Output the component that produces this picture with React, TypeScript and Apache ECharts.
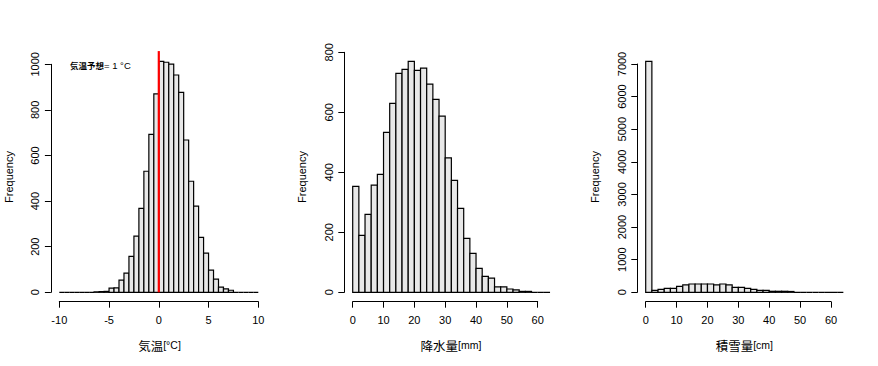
import React, { useEffect, useRef } from "react";
import * as echarts from "echarts";

// ---------- data ----------
const tempBinStart = -10;
const tempBinWidth = 0.5;
const tempCounts = [
  0, 0, 0, 0, 0, 0, 0, 2, 3, 4, 18, 19, 53, 84, 158, 246, 368, 531, 693, 870,
  1013, 1009, 1001, 953, 877, 668, 487, 378, 241, 172, 97, 58, 23, 15, 9, 0, 0, 0, 0, 0,
];

const precipBinStart = 0;
const precipBinWidth = 2;
const precipCounts = [
  353, 190, 260, 357, 393, 533, 630, 730, 743, 770, 740, 747, 694, 643, 587, 448,
  373, 280, 180, 130, 80, 53, 47, 18, 18, 11, 8, 3, 3, 0, 0, 0,
];

const snowBinStart = 0;
const snowBinWidth = 2;
const snowCounts = [
  7080, 61, 92, 123, 123, 184, 225, 255, 255, 255, 255, 225, 255, 225, 153, 153,
  123, 92, 61, 61, 31, 31, 31, 25, 0, 0, 0, 0, 0, 0, 0, 0,
];

const tempXTicks = [-10, -5, 0, 5, 10];
const precipXTicks = [0, 10, 20, 30, 40, 50, 60];
const snowXTicks = [0, 10, 20, 30, 40, 50, 60];
const tempYTicks = [0, 200, 400, 600, 800, 1000];
const precipYTicks = [0, 200, 400, 600, 800];
const snowYTicks = [0, 1000, 2000, 3000, 4000, 5000, 6000, 7000];

const forecastLine = [
  [0, 0],
  [0, 1058],
];

const yTitle = "Frequency";
const xTitleMain = ["気温", "降水量", "積雪量"];
const xTitleUnit = ["[°C]", "[mm]", "[cm]"];
const annotationMain = "気温予想";
const annotationRest = "= 1 °C";

// ---------- layout ----------
const LATIN = "'Liberation Sans', Arial, 'Noto Sans CJK JP', sans-serif";
const CJK = "'Noto Sans CJK JP', sans-serif";

const panels = [
  { left: 59.3, top: 64.3, width: 199, height: 228, binStart: tempBinStart, binWidth: tempBinWidth, counts: tempCounts, xTicks: tempXTicks, yTicks: tempYTicks, yTitleX: 9, xTitleX: 159.5 },
  { left: 352.7, top: 52.3, width: 185, height: 240, binStart: precipBinStart, binWidth: precipBinWidth, counts: precipCounts, xTicks: precipXTicks, yTicks: precipYTicks, yTitleX: 302, xTitleX: 451 },
  { left: 645.7, top: 64, width: 185.3, height: 228.3, binStart: snowBinStart, binWidth: snowBinWidth, counts: snowCounts, xTicks: snowXTicks, yTicks: snowYTicks, yTitleX: 594.5, xTitleX: 744.3 },
];

const renderBin = (params: any, api: any) => {
  const x0 = api.value(0);
  const x1 = api.value(1);
  const c = api.value(2);
  const p0 = api.coord([x0, 0]);
  const p1 = api.coord([x1, c]);
  return {
    type: "polygon",
    shape: {
      points: [
        [p0[0], p0[1]],
        [p1[0], p0[1]],
        [p1[0], p1[1]],
        [p0[0], p1[1]],
      ],
    },
    style: { fill: "#e8e8e8", stroke: "#000", lineWidth: 1.2 },
  };
};

const plain = (v: number) => String(v);

export default function App() {
  const ref = useRef<HTMLDivElement>(null);

  useEffect(() => {
    if (!ref.current) return;
    const chart = echarts.init(ref.current, undefined, { renderer: "svg" });

    const grid = panels.map((p) => ({ left: p.left, top: p.top, width: p.width, height: p.height }));

    const xAxis = panels.map((p, i) => ({
      gridIndex: i,
      type: "value",
      min: p.xTicks[0],
      max: p.xTicks[p.xTicks.length - 1],
      interval: p.xTicks[1] - p.xTicks[0],
      offset: 9.4,
      axisLine: { show: true, onZero: false, lineStyle: { color: "#000", width: 1 } },
      axisTick: { show: true, length: 6, lineStyle: { color: "#000", width: 1 } },
      axisLabel: { fontSize: 11, color: "#000", margin: 13, fontFamily: LATIN, formatter: plain },
      splitLine: { show: false },
    }));

    const yAxis = panels.map((p, i) => ({
      gridIndex: i,
      type: "value",
      min: p.yTicks[0],
      max: p.yTicks[p.yTicks.length - 1],
      interval: p.yTicks[1] - p.yTicks[0],
      offset: 8.4,
      axisLine: { show: true, onZero: false, lineStyle: { color: "#000", width: 1 } },
      axisTick: { show: true, length: 6, lineStyle: { color: "#000", width: 1 } },
      axisLabel: { fontSize: 11, color: "#000", margin: 10, rotate: 90, interval: 0, fontFamily: LATIN, formatter: plain },
      splitLine: { show: false },
    }));

    const series: any[] = panels.map((p, i) => ({
      type: "custom",
      xAxisIndex: i,
      yAxisIndex: i,
      clip: false,
      renderItem: renderBin,
      encode: { x: [0, 1], y: 2 },
      data: p.counts.map((c, k) => [p.binStart + k * p.binWidth, p.binStart + (k + 1) * p.binWidth, c]),
    }));

    series.push({
      type: "line",
      xAxisIndex: 0,
      yAxisIndex: 0,
      clip: false,
      symbol: "none",
      z: 5,
      lineStyle: { color: "#ff0000", width: 2.2 },
      data: forecastLine,
    });

    const graphic: any[] = [];
    panels.forEach((p, i) => {
      graphic.push({
        type: "text",
        x: p.yTitleX,
        y: 177,
        rotation: Math.PI / 2,
        style: {
          text: yTitle,
          fontSize: 11,
          fontFamily: LATIN,
          fill: "#000",
          align: "center",
          verticalAlign: "middle",
          textAlign: "center",
          textVerticalAlign: "middle",
        },
      });
      graphic.push({
        type: "text",
        x: p.xTitleX,
        y: 345,
        style: {
          text: `{k|${xTitleMain[i]}}{l|${xTitleUnit[i]}}`,
          fill: "#000",
          align: "center",
          verticalAlign: "middle",
          textAlign: "center",
          textVerticalAlign: "middle",
          rich: {
            k: { fontSize: 12.5, fontFamily: CJK, fill: "#000" },
            l: { fontSize: 10.5, fontFamily: LATIN, fill: "#000" },
          },
        },
      });
    });
    graphic.push({
      type: "text",
      x: 70,
      y: 65,
      style: {
        text: `{k|${annotationMain}}{l|${annotationRest}}`,
        fill: "#000",
        align: "left",
        verticalAlign: "middle",
        textAlign: "left",
        textVerticalAlign: "middle",
        rich: {
          k: { fontSize: 8.5, fontFamily: CJK, fontWeight: "bold", fill: "#000" },
          l: { fontSize: 9.5, fontFamily: LATIN, fill: "#000" },
        },
      },
    });

    chart.setOption({
      animation: false,
      backgroundColor: "#fff",
      grid,
      xAxis,
      yAxis,
      series,
      graphic,
    });

    return () => chart.dispose();
  }, []);

  return <div ref={ref} style={{ position: "fixed", left: 0, top: 0, width: 878, height: 366 }} />;
}
